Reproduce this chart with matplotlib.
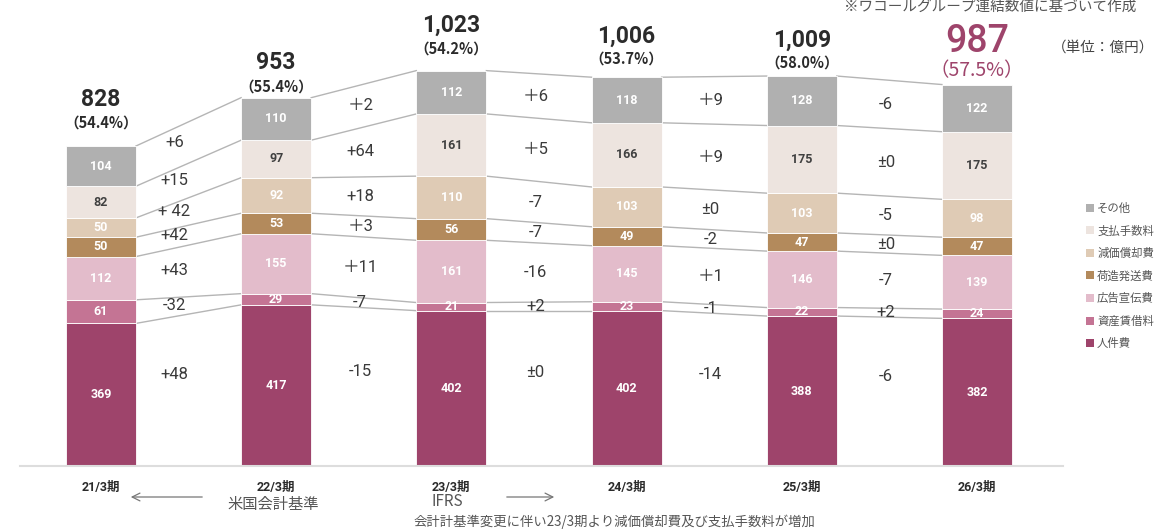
import matplotlib
matplotlib.use('Agg')
import matplotlib.pyplot as plt
import numpy as np
from matplotlib.patches import Patch

plt.rcParams['font.family'] = ['Noto Sans CJK JP', 'DejaVu Sans']

# ---------------- data ----------------
periods = ['21/3期', '22/3期', '23/3期', '24/3期', '25/3期', '26/3期']
categories = ['人件費', '資産賃借料', '広告宣伝費', '荷造発送費', '減価償却費', '支払手数料', 'その他']  # bottom -> top
jinkenhi = [369, 417, 402, 402, 388, 382]
shisan_chinshaku = [61, 29, 21, 23, 22, 24]
koukoku_senden = [112, 155, 161, 145, 146, 139]
nizukuri_hassou = [50, 53, 56, 49, 47, 47]
genka_shoukyaku = [50, 92, 110, 103, 103, 98]
shiharai_tesuuryou = [82, 97, 161, 166, 175, 175]
sonota = [104, 110, 112, 118, 128, 122]
total_labels = ['828', '953', '1,023', '1,006', '1,009', '987']
ratio_labels = ['（54.4%）', '（55.4%）', '（54.2%）', '（53.7%）', '（58.0%）', '（57.5%）']
# change labels per gap, listed bottom -> top
delta_labels = [
    ['+48', '-32', '+43', '+42', '+ 42', '+15', '+6'],
    ['-15', '-7', '＋11', '＋3', '+18', '+64', '＋2'],
    ['±0', '+2', '-16', '-7', '-7', '＋5', '＋6'],
    ['-14', '-1', '＋1', '-2', '±0', '＋9', '＋9'],
    ['-6', '+2', '-7', '±0', '-5', '±0', '-6'],
]

# ---------------- layout / style ----------------
series = [jinkenhi, shisan_chinshaku, koukoku_senden, nizukuri_hassou,
          genka_shoukyaku, shiharai_tesuuryou, sonota]
colors = ['#9e446b', '#c47494', '#e3bccb', '#b38a5c', '#dfcbb5', '#ede4df', '#b0b0b0']
text_colors = ['white', 'white', 'white', 'white', 'white', '#404040', 'white']
# gap (pixels) between bar top and the total / ratio labels
num_gap_px = [46, 35, 45, 41, 36, 43]
pct_gap_px = [23, 11, 22, 19, 13, 14]

W, H = 1157, 532
fig = plt.figure(figsize=(W / 100, H / 100), dpi=100)
ax = fig.add_axes([20 / W, 1 - 466 / H, (1063 - 20) / W, 446 / H])

x = np.arange(len(periods))
bw = 0.40
vals = np.array(series, dtype=float)
bottoms = np.vstack([np.zeros(len(periods)), np.cumsum(vals, axis=0)[:-1]])
tops = bottoms + vals

for k in range(len(series)):
    ax.bar(x, vals[k], bw, bottom=bottoms[k], color=colors[k],
           edgecolor='white', linewidth=0.6, zorder=2)
    for i in range(len(periods)):
        ax.text(x[i], bottoms[k][i] + vals[k][i] / 2, f'{int(vals[k][i])}',
                ha='center', va='center', fontsize=9, fontweight='bold',
                color=text_colors[k], family=['Roboto', 'DejaVu Sans'], zorder=4)

# connector lines
for i in range(len(periods) - 1):
    for k in range(len(series)):
        ax.plot([x[i] + bw / 2, x[i + 1] - bw / 2], [tops[k][i], tops[k][i + 1]],
                color='#b5b5b5', lw=1.0, zorder=1)

# change labels
for i in range(len(periods) - 1):
    for k in range(len(series)):
        if k == 0:
            yv = 0.6 * (tops[0][i] + tops[0][i + 1]) / 2
        else:
            m1 = (bottoms[k][i] + tops[k][i]) / 2
            m2 = (bottoms[k][i + 1] + tops[k][i + 1]) / 2
            yv = (m1 + m2) / 2
        ax.text(x[i] + 0.5 - (0.08 if i == 0 else 0.02), yv, delta_labels[i][k],
                ha='center', va='center', fontsize=12, color='#3a3a3a',
                family=['Roboto', 'Noto Sans CJK JP'], zorder=3)

# totals
totals = tops[-1]
for i in range(len(periods)):
    last = (i == len(periods) - 1)
    col = '#9e446b' if last else '#2b2b2b'
    ax.annotate(total_labels[i], (x[i], totals[i]), xytext=(0, num_gap_px[i] * 0.72),
                textcoords='offset points', ha='center', va='center',
                fontsize=27 if last else 16.5, color=col,
                family=['Roboto', 'DejaVu Sans'],
                fontweight='medium' if last else 'bold')
    ax.annotate(ratio_labels[i], (x[i], totals[i]), xytext=(0, pct_gap_px[i] * 0.72),
                textcoords='offset points', ha='center', va='center',
                fontsize=14 if last else 10.5, color=col,
                fontweight='normal' if last else 'bold')

ax.set_xlim(-0.462, 5.491)
ax.set_ylim(0, 1154)
for s in ['top', 'right', 'left']:
    ax.spines[s].set_visible(False)
ax.spines['bottom'].set_color('#dddddd')
ax.spines['bottom'].set_linewidth(1.5)
ax.set_yticks([])
ax.set_xticks(x)
ax.set_xticklabels(periods, fontsize=9, fontweight='bold', color='#2b2b2b',
                   family=['Roboto', 'Noto Sans CJK JP'])
ax.tick_params(axis='x', length=0, pad=11)

# accounting standard notes
fig.text(273 / W, 1 - 504 / H, '米国会計基準', ha='center', va='center', fontsize=11, color='#555555')
fig.text(447 / W, 1 - 501 / H, 'IFRS', ha='center', va='center', fontsize=11, color='#555555')
fig.add_artist(plt.Annotation('', xy=(128 / W, 1 - 497 / H), xytext=(205 / W, 1 - 497 / H),
                              xycoords='figure fraction', textcoords='figure fraction',
                              arrowprops=dict(arrowstyle='->', color='#777777', lw=0.9,
                                              mutation_scale=14)))
fig.add_artist(plt.Annotation('', xy=(557 / W, 1 - 497 / H), xytext=(504 / W, 1 - 497 / H),
                              xycoords='figure fraction', textcoords='figure fraction',
                              arrowprops=dict(arrowstyle='->', color='#777777', lw=0.9,
                                              mutation_scale=14)))
fig.text(614 / W, 1 - 522 / H, '会計計基準変更に伴い23/3期より減価償却費及び支払手数料が増加',
         ha='center', va='center', fontsize=9.6, color='#555555')

fig.text(990 / W, 1 - 7 / H, '※ワコールグループ連結数値に基づいて作成', ha='center', va='center',
         fontsize=10.5, color='#555555')
fig.text(1103 / W, 1 - 48 / H, '（単位：億円）', ha='center', va='center', fontsize=10.5, color='#444444')

handles = [Patch(facecolor=colors[k], edgecolor='none') for k in range(len(series))][::-1]
labels = categories[::-1]
fig.legend(handles, labels, loc='upper left', bbox_to_anchor=(1080 / W, 1 - 197 / H),
           frameon=False, fontsize=8.2, handlelength=0.7, handleheight=0.7,
           handletextpad=0.3, labelspacing=1.0, labelcolor='#555555', borderpad=0)

fig.savefig('out.png', dpi=100)
